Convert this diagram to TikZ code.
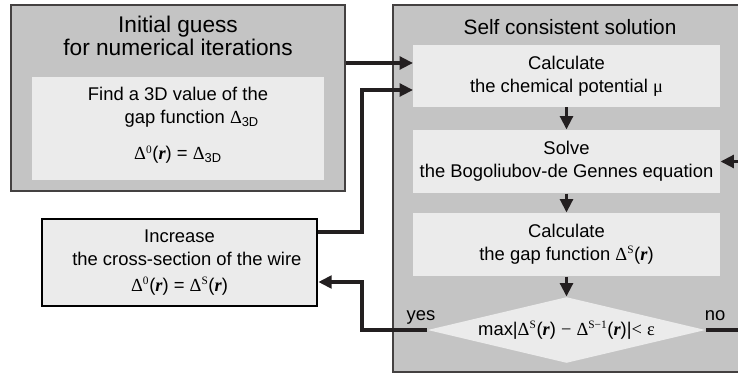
\documentclass[tikz,border=0pt]{standalone}
\usepackage{fontspec}
\setmainfont{Liberation Sans}
\newfontfamily\symf{Liberation Serif}
\usetikzlibrary{shapes.geometric,arrows.meta}
\tikzset{every picture/.style={line width=0.75pt}}

\definecolor{panelgray}{RGB}{196,196,196}
\definecolor{boxgray}{RGB}{235,235,235}
\definecolor{linedark}{RGB}{35,31,32}

\newcommand{\px}{0.75pt}
\newcommand{\Dl}{{\symf Δ}}
\newcommand{\rv}{{\symf\bfseries\itshape r}}
\newcommand{\sups}[1]{\textsuperscript{\fontsize{8.5}{8.5}\selectfont\symf #1}}
\newcommand{\bodyfont}{\fontsize{13.8}{17.3}\selectfont}

\tikzset{
  panel/.style={draw=linedark!85, line width=1.5pt, fill=panelgray, inner sep=0pt},
  stepbox/.style={fill=boxgray, inner sep=0pt, align=center, font=\bodyfont, minimum width=307*\px, minimum height=63*\px},
  txt/.style={font=\bodyfont, align=center, inner sep=0pt},
  conn/.style={draw=linedark, line width=2.4pt, -{Triangle[length=10pt,width=9.5pt]}}
}

\begin{document}
\begin{tikzpicture}[x=0.75pt,y=0.75pt,yscale=-1,xscale=1]
		\useasboundingbox (0,0) rectangle (738,374);
		\clip (0,0) rectangle (738,374);
		
		% Initial guess panel
		\node [panel, minimum width=334*\px, minimum height=186*\px] (guess) at (178,98) {};
		\node [fill=boxgray, minimum width=292*\px, minimum height=103*\px] (find) at (178,128.5) {};
		\node [txt, font=\fontsize{17}{17.5}\selectfont] (guesstitle) at (178,36) {Initial guess\\for numerical iterations};
		\node [txt] (findtext) at (178,107) {Find a 3D value of the\\\hspace*{1.5em}gap function \Dl\textsubscript{3D}};
		\node [txt, anchor=base] (findeq) at (178,160) {\Dl\sups{0}(\rv) = \Dl\textsubscript{3D}};
		
		% Self consistent panel
		\node [panel, minimum width=367*\px, minimum height=367*\px] (scc) at (576.5,188.5) {};
		\node [txt, anchor=base, font=\fontsize{15.6}{18}\selectfont] (scctitle) at (570,35) {Self consistent solution};
		\node [stepbox, minimum height=62*\px] (calc) at (566.5,76) {Calculate\\the chemical potential {\symf μ}};
		\node [stepbox] (solve) at (566.5,161.5) {Solve\\the Bogoliubov-de Gennes equation};
		\node [stepbox] (gap) at (566.5,244.5) {Calculate\\the gap function \Dl\sups{S}(\rv)};
		\node [diamond, fill=boxgray, inner sep=0pt, aspect=4.2, minimum width=278*\px, minimum height=66*\px, font=\bodyfont] (test) at (566.5,330) {max|\Dl\sups{S}(\rv) {\symf −} \Dl\sups{S−1}(\rv)|{\symf <} {\symf ε}};
		\node [txt, anchor=base] (yes) at (421,320) {yes};
		\node [txt, anchor=base] (no) at (715,320) {no};
		
		% Increase box
		\node [draw=black, line width=2pt, fill=boxgray, minimum width=275*\px, minimum height=87*\px, align=center, font=\bodyfont] (inc) at (179.5,262.5) {Increase\\\hspace*{0.8em}the cross-section of the wire\\[2pt]\Dl\sups{0}(\rv) = \Dl\sups{S}(\rv)};
		
		% Lanes
		\coordinate (in1) at (413,63);
		\coordinate (in2) at (413,90);
		\coordinate (lane) at (362,0);
		\coordinate (rlane) at (760,0);
		
		% Connectors
		\draw [conn] (guess.east |- in1) -- (in1);
		\draw [conn] ([yshift=-30.5*\px]inc.east) -| (lane |- in2) -- (in2);
		\draw [conn] (calc.south) -- (solve.north);
		\draw [conn] (solve.south) -- (gap.north);
		\draw [conn] (gap.south) -- (test.north);
		\draw [conn] (test.west) -- (lane |- test.west) |- ([yshift=19.5*\px]inc.east);
		\draw [conn] (test.east) -- (rlane |- test.east) |- (solve.east);
		
\end{tikzpicture}
\end{document}
